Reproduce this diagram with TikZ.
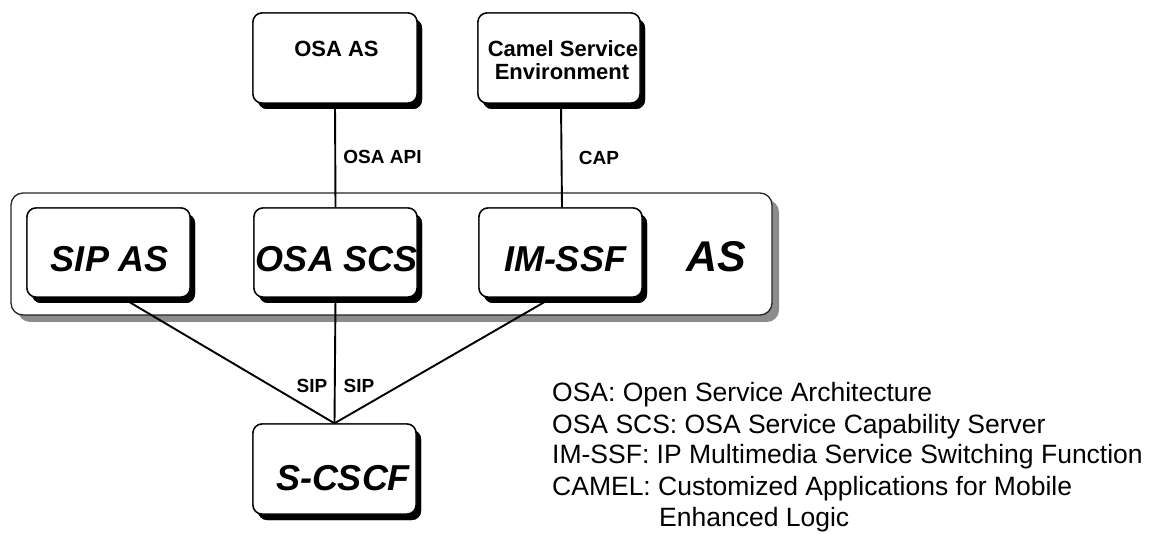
\documentclass[tikz,border=0pt]{standalone}
\usepackage{fontspec}
\setmainfont{Liberation Sans}
\usetikzlibrary{shadows}
\begin{document}
\begin{tikzpicture}[x=1pt,y=-1pt,
  box/.style={draw=black, line width=1.4pt, fill=white, rounded corners=9pt, inner sep=0pt,
    drop shadow={shadow xshift=5pt, shadow yshift=-6pt, fill=black, opacity=1, rounded corners=9pt}},
  container/.style={draw=black!85, line width=1.3pt, fill=white, rounded corners=12pt, inner sep=0pt,
    drop shadow={shadow xshift=7pt, shadow yshift=-7pt, fill=black!45, opacity=1, rounded corners=12pt}},
  conn/.style={draw=black, line width=1.9pt},
  toplabel/.style={anchor=base, inner sep=0pt, font=\fontsize{22}{23}\selectfont\bfseries},
  ifacelabel/.style={anchor=base, inner sep=0pt, font=\fontsize{19}{20}\selectfont\bfseries},
  boxlabel/.style={anchor=base, inner sep=0pt, font=\fontsize{36}{36}\selectfont\bfseries\itshape},
  legend/.style={anchor=base west, inner sep=0pt, font=\fontsize{26.5}{31}\selectfont}
]
\useasboundingbox (0,0) rectangle (1154,534);

% AS container
\node[container, minimum width=761pt, minimum height=122pt] (ascont) at (391.5,254) {};

% boxes
\node[box, minimum width=164pt, minimum height=90pt] (osaas) at (335,58) {};
\node[box, minimum width=162pt, minimum height=90pt] (camel) at (559,58) {};
\node[box, minimum width=163pt, minimum height=89pt] (sipas) at (108.5,252.5) {};
\node[box, minimum width=163pt, minimum height=89pt] (osascs) at (335.5,252.5) {};
\node[box, minimum width=163pt, minimum height=89pt] (imssf) at (560.5,252.5) {};
\node[box, minimum width=163pt, minimum height=90pt] (scscf) at (334.5,469) {};

% connectors
\draw[conn] (osaas.south) -- (osascs.north);
\draw[conn] ([xshift=2pt]camel.south) -- ([xshift=1.5pt]imssf.north);
\draw[conn] ([xshift=13.5pt]sipas.south) -- (scscf.north);
\draw[conn] (osascs.south) -- (scscf.north);
\draw[conn] ([xshift=-8.5pt]imssf.south) -- (scscf.north);

% redraw boxes on top of connector ends
\node[box, minimum width=164pt, minimum height=90pt] at (osaas) {};
\node[box, minimum width=162pt, minimum height=90pt] at (camel) {};
\node[box, minimum width=163pt, minimum height=89pt] at (sipas) {};
\node[box, minimum width=163pt, minimum height=89pt] at (osascs) {};
\node[box, minimum width=163pt, minimum height=89pt] at (imssf) {};
\node[box, minimum width=163pt, minimum height=90pt] at (scscf) {};

% texts
\node[toplabel] (tosaas) at (336.5,57) {OSA AS};
\node[toplabel] (tcamel1) at (563,57) {Camel Service};
\node[toplabel] (tcamel2) at (562,80) {Environment};
\node[ifacelabel] (tapi) at (382.5,164) {OSA API};
\node[ifacelabel] (tcap) at (599,165) {CAP};
\node[ifacelabel] (tsip1) at (312,392) {SIP};
\node[ifacelabel] (tsip2) at (359,392) {SIP};
\node[boxlabel] (tsipas) at (110,272) {SIP AS};
\node[boxlabel] (tosascs) at (337,272) {OSA SCS};
\node[boxlabel] (timssf) at (565,272) {IM-SSF};
\node[anchor=base, inner sep=0pt, font=\fontsize{43}{43}\selectfont\bfseries\itshape] (tas) at (716,272) {AS};
\node[boxlabel] (tscscf) at (343,490) {S-CSCF};

% legend
\node[legend] (leg1) at (552,402) {OSA: Open Service Architecture};
\node[legend] (leg2) at (552,433) {OSA SCS: OSA Service Capability Server};
\node[legend] (leg3) at (552,464) {IM-SSF: IP Multimedia Service Switching Function};
\node[legend] (leg4) at (552,495) {CAMEL: Customized Applications for Mobile};
\node[legend] (leg5) at (659,526) {Enhanced Logic};
\end{tikzpicture}
\end{document}
